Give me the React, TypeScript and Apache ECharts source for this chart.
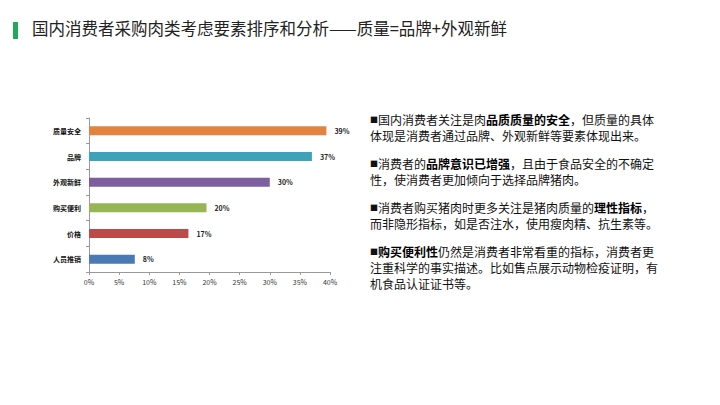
import React, { useEffect, useRef } from "react";
import * as echarts from "echarts";

const categories = ["人员推销", "价格", "购买便利", "外观新鲜", "品牌", "质量安全"];
const values = [7.6, 16.5, 19.5, 30, 37, 39.4];
const barColors = ["#4A7AB5", "#BB4A48", "#95B652", "#7D5E9E", "#3EA3B8", "#E2843F"];
const xTicks = [0, 5, 10, 15, 20, 25, 30, 35, 40];
const titleText = "国内消费者采购肉类考虑要素排序和分析——质量=品牌+外观新鲜";

type Seg = [string, string];
const paragraphs: Seg[][][] = [
  [
    [["■", "s"], ["国内消费者关注是肉", "n"], ["品质质量的安全", "b"], ["，但质量的具体", "n"]],
    [["体现是消费者通过品牌、外观新鲜等要素体现出来。", "n"]],
  ],
  [
    [["■", "s"], ["消费者的", "n"], ["品牌意识已增强", "b"], ["，且由于食品安全的不确定", "n"]],
    [["性，使消费者更加倾向于选择品牌猪肉。", "n"]],
  ],
  [
    [["■", "s"], ["消费者购买猪肉时更多关注是猪肉质量的", "n"], ["理性指标", "b"], ["，", "n"]],
    [["而非隐形指标，如是否注水，使用瘦肉精、抗生素等。", "n"]],
  ],
  [
    [["■", "s"], ["购买便利性", "b"], ["仍然是消费者非常看重的指标，消费者更", "n"]],
    [["注重科学的事实描述。比如售点展示动物检疫证明，有", "n"]],
    [["机食品认证证书等。", "n"]],
  ],
];

export default function App() {
  const ref = useRef<HTMLDivElement>(null);
  useEffect(() => {
    if (!ref.current) return;
    const chart = echarts.init(ref.current, undefined, { renderer: "svg" });
    const font = '"Noto Sans CJK SC", "Noto Sans", sans-serif';
    const textEls: any[] = [];
    const paraTops = [113, 157, 201, 245];
    paragraphs.forEach((para, pi) => {
      para.forEach((line, li) => {
        const txt = line.map(([s, k]) => `{${k}|${s}}`).join("");
        textEls.push({
          type: "text",
          left: 370,
          top: paraTops[pi] + li * 16,
          style: {
            text: txt,
            font: `12px ${font}`,
            fill: "#111",
            rich: {
              s: { fontSize: 8, fontFamily: font, fill: "#111", height: 16, verticalAlign: "middle" },
              n: { fontSize: 12, fontFamily: font, fill: "#111", fontWeight: "normal", height: 16 },
              b: { fontSize: 12, fontFamily: font, fill: "#000", fontWeight: "bold", height: 16 },
            },
          },
        });
      });
    });
    chart.setOption({
      animation: false,
      backgroundColor: "#fff",
      grid: { left: 89, top: 118, width: 241, height: 154 },
      xAxis: {
        type: "value",
        min: 0,
        max: 40,
        interval: 5,
        axisLine: { show: true, lineStyle: { color: "#999" } },
        axisTick: { show: true, length: 3, lineStyle: { color: "#999" } },
        splitLine: { show: false },
        axisLabel: {
          formatter: (v: number) => (xTicks.includes(v) ? `${v}%` : ""),
          fontSize: 7,
          color: "#333",
          fontFamily: font,
          margin: 6,
        },
      },
      yAxis: {
        type: "category",
        data: categories,
        axisLine: { show: true, lineStyle: { color: "#999" } },
        axisTick: { show: true, length: 3, lineStyle: { color: "#999" } },
        axisLabel: { fontSize: 7, color: "#111", fontWeight: "bold", fontFamily: font, margin: 8 },
      },
      series: [
        {
          type: "bar",
          barWidth: 9,
          data: values.map((v, i) => ({ value: v, itemStyle: { color: barColors[i] } })),
          label: {
            show: true,
            position: "right",
            distance: 8,
            formatter: (p: any) => `${Math.round(p.value)}%`,
            fontSize: 7,
            color: "#222",
            fontWeight: "bold",
            fontFamily: font,
          },
        },
      ],
      graphic: [
        { type: "rect", shape: { x: 13, y: 22, width: 5, height: 17 }, style: { fill: "#1FA95B" } },
        {
          type: "text",
          left: 32,
          top: 20,
          style: { text: titleText, font: `16.5px ${font}`, fill: "#222" },
        },
        ...textEls,
      ],
    });
    return () => chart.dispose();
  }, []);
  return <div ref={ref} style={{ width: 720, height: 405, position: "absolute", left: 0, top: 0 }} />;
}
